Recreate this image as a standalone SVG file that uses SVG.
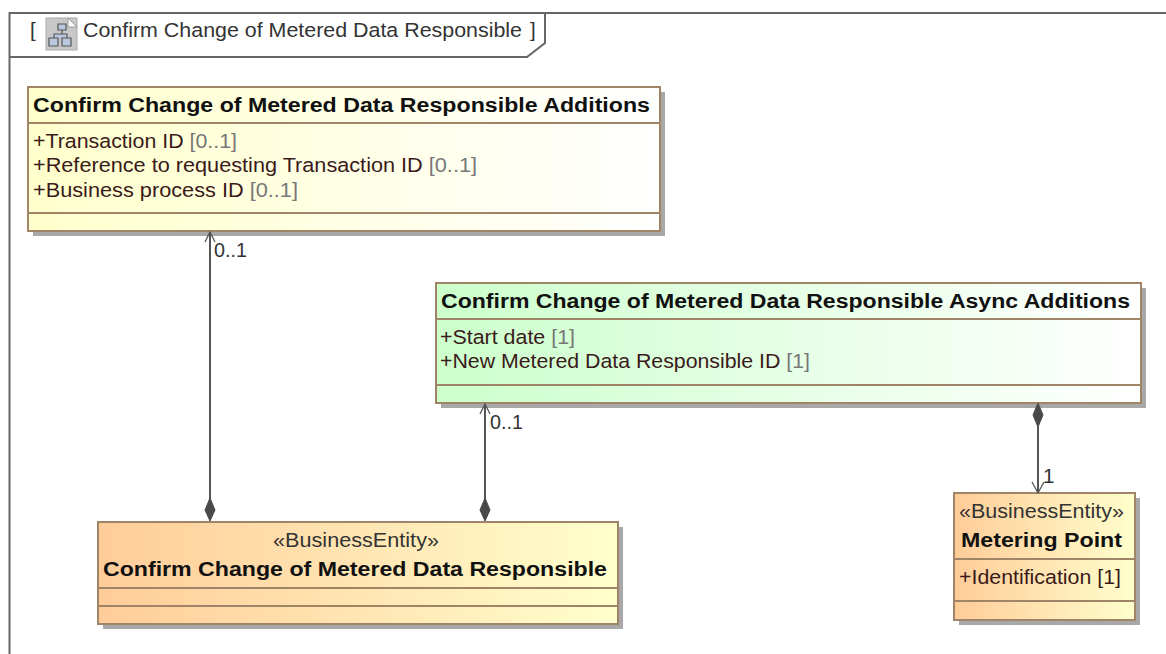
<svg xmlns="http://www.w3.org/2000/svg" width="1166" height="654" viewBox="0 0 1166 654">
<style>
text{font-family:"Liberation Sans",Arial,sans-serif;font-size:20.5px;fill:#3a1a1a}
.t{font-weight:bold;fill:#111;font-size:20px}
.n{fill:#333}
.g{fill:#777}
.s{fill:#a8a8a8}
.b{stroke:#a08468;stroke-width:2}
.l{stroke:#a08468;stroke-width:2;fill:none}
.c{stroke:#555;stroke-width:2;fill:none}
.o{stroke:#555;stroke-width:1.3;fill:none}
.d{fill:#4a4a4a;stroke:#4a4a4a}
.f{stroke:#666;stroke-width:2;fill:none}
</style>
<defs>
<linearGradient id="gy"><stop offset="0" stop-color="#ffffcc"/><stop offset="1" stop-color="#ffffff"/></linearGradient>
<linearGradient id="gg"><stop offset="0" stop-color="#ccffcc"/><stop offset="1" stop-color="#ffffff"/></linearGradient>
<linearGradient id="go"><stop offset="0" stop-color="#ffcc99"/><stop offset="1" stop-color="#ffffcc"/></linearGradient>
</defs>
<rect width="1166" height="654" fill="#fff"/>
<g id="frame">
<path class="f" d="M9.500 654V13H1166"/>
<path class="f" d="M9.500 57H527L545 43V13"/>
<rect x="46" y="18" width="31" height="32" fill="#c8c8c8" stroke="#aaa"/>
<path d="M68 18L77 27H68Z" fill="#fff" stroke="#999"/>
<path d="M58 24H66V30H58ZM49 38H58V46H49ZM62 38H71V46H62ZM62 30V34M54 38V34H67V38" fill="#b9c8e0" stroke="#555" stroke-width="1.200"/>
<text x="30" y="37" class="n">[</text>
<text x="83" y="37" class="n" textLength="439" lengthAdjust="spacingAndGlyphs">Confirm Change of Metered Data Responsible</text>
<text x="530" y="37" class="n">]</text>
</g>
<g id="node-additions">
<rect class="s" x="33" y="92" width="632" height="144"/>
<rect class="b" x="28" y="87" width="632" height="144" fill="url(#gy)"/>
<path class="l" d="M28 123H660M28 213H660"/>
<text class="t" x="33" y="112" textLength="617" lengthAdjust="spacingAndGlyphs">Confirm Change of Metered Data Responsible Additions</text>
<text x="33" y="148" textLength="204" lengthAdjust="spacingAndGlyphs">+Transaction ID <tspan class="g">[0..1]</tspan></text>
<text x="33" y="172" textLength="444" lengthAdjust="spacingAndGlyphs">+Reference to requesting Transaction ID <tspan class="g">[0..1]</tspan></text>
<text x="33" y="197" textLength="265" lengthAdjust="spacingAndGlyphs">+Business process ID <tspan class="g">[0..1]</tspan></text>
</g>
<g id="node-async">
<rect class="s" x="441" y="288" width="705" height="120"/>
<rect class="b" x="436" y="283" width="705" height="120" fill="url(#gg)"/>
<path class="l" d="M436 319H1141M436 385H1141"/>
<text class="t" x="441" y="308" textLength="689" lengthAdjust="spacingAndGlyphs">Confirm Change of Metered Data Responsible Async Additions</text>
<text x="440" y="344" textLength="135" lengthAdjust="spacingAndGlyphs">+Start date <tspan class="g">[1]</tspan></text>
<text x="440" y="368" textLength="370" lengthAdjust="spacingAndGlyphs">+New Metered Data Responsible ID <tspan class="g">[1]</tspan></text>
</g>
<g id="node-confirm">
<rect class="s" x="103" y="527" width="520" height="102"/>
<rect class="b" x="98" y="522" width="520" height="102" fill="url(#go)"/>
<path class="l" d="M98 588H618M98 606H618"/>
<text x="273" y="547" class="n" textLength="166" lengthAdjust="spacingAndGlyphs">«BusinessEntity»</text>
<text class="t" x="103" y="576" textLength="504" lengthAdjust="spacingAndGlyphs">Confirm Change of Metered Data Responsible</text>
</g>
<g id="node-metering">
<rect class="s" x="959" y="498" width="181" height="127"/>
<rect class="b" x="954" y="493" width="181" height="127" fill="url(#go)"/>
<path class="l" d="M954 559H1135M954 601H1135"/>
<text x="959" y="518" class="n" textLength="165" lengthAdjust="spacingAndGlyphs">«BusinessEntity»</text>
<text class="t" x="961" y="547" textLength="161" lengthAdjust="spacingAndGlyphs">Metering Point</text>
<text x="959" y="584" textLength="162" lengthAdjust="spacingAndGlyphs">+Identification [1]</text>
</g>
<g id="connectors">
<path class="c" d="M210 232V503"/>
<path class="o" d="M205 242L210 232L215 242"/>
<path class="d" d="M210 498L215 510L210 521L205 510Z"/>
<text x="214" y="257" class="n" textLength="33" lengthAdjust="spacingAndGlyphs">0..1</text>
<path class="c" d="M485 404V503"/>
<path class="o" d="M480 414L485 404L490 414"/>
<path class="d" d="M485 498L490 510L485 521L480 510Z"/>
<text x="490" y="429" class="n" textLength="33" lengthAdjust="spacingAndGlyphs">0..1</text>
<path class="c" d="M1038 425V492"/>
<path class="o" d="M1032 482L1038 493L1044 482"/>
<path class="d" d="M1038 403L1043 415L1038 427L1033 415Z"/>
<text x="1043" y="483" class="n">1</text>
</g>
</svg>
